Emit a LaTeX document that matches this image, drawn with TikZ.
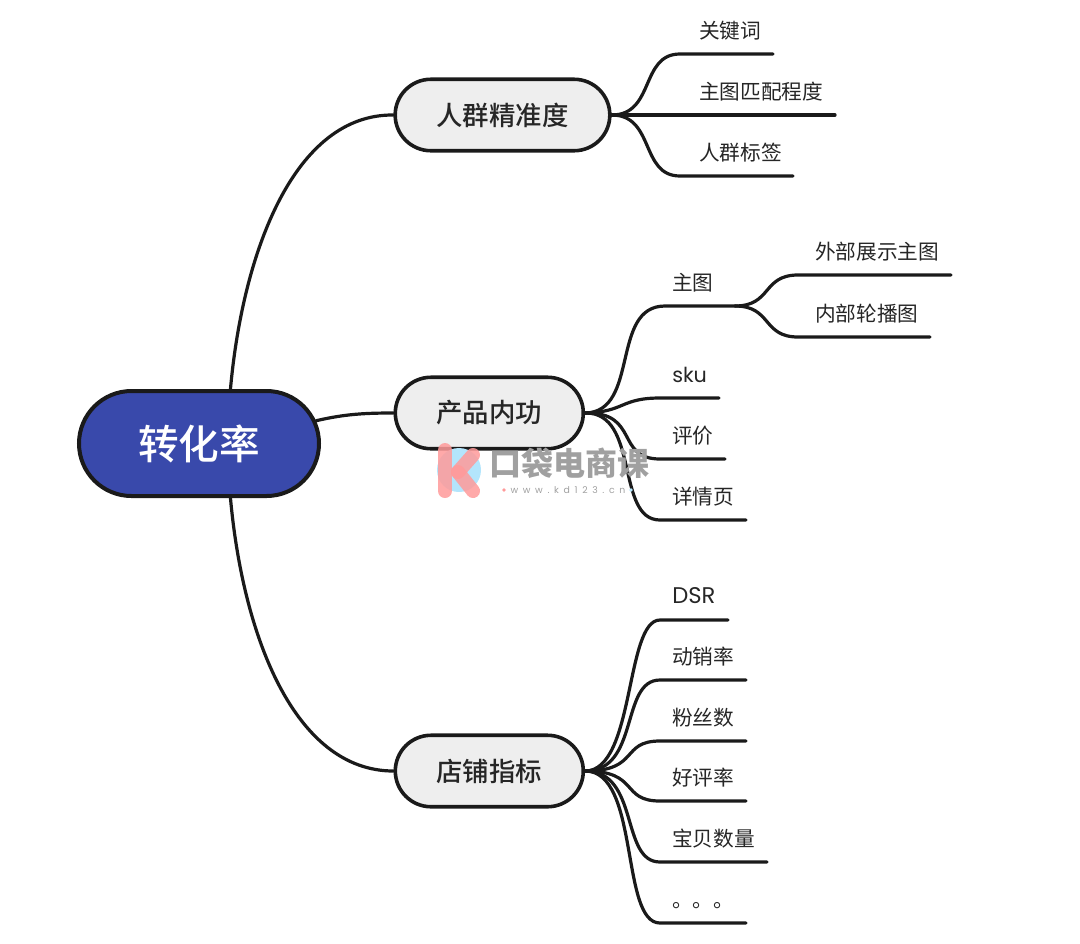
\documentclass[tikz,border=0pt]{standalone}
\usepackage{fontspec}
\setmainfont{Noto Sans CJK SC}
\newfontfamily\medfont[UprightFont=* Medium]{Noto Sans CJK SC}
\newfontfamily\latinfont{Poppins}
\newfontfamily\markfont[LetterSpace=50]{Poppins}
\usetikzlibrary{shapes.misc}
\definecolor{inkline}{HTML}{1A1A1A}
\definecolor{inktext}{HTML}{262626}
\definecolor{rootblue}{HTML}{3949AB}
\definecolor{branchgray}{HTML}{EEEEEE}
\definecolor{markgray}{HTML}{A0A0A0}
\definecolor{markpink}{HTML}{FF9A9A}
\definecolor{markblue}{HTML}{B3E5FC}
\tikzset{
    link/.style={draw=inkline, line width=2.4pt, line cap=round},
    rootnode/.style={rounded rectangle, draw=inkline, line width=3pt, fill=rootblue,
        text=white, font=\fontsize{30.5}{36}\medfont,
        minimum width=180pt, minimum height=78.75pt, inner sep=0pt},
    branchnode/.style={rounded rectangle, draw=inkline, line width=2.7pt, fill=branchgray,
        text=inktext, font=\fontsize{19.8}{24}\medfont,
        minimum height=53.6pt, inner sep=0pt},
    leafnode/.style={anchor=west, text=inktext, inner sep=0pt,
        font=\fontsize{15.5}{19}\selectfont},
}
\begin{document}
\begin{tikzpicture}[x=.75pt, y=-.75pt]
    \useasboundingbox (0,0) rectangle (1080,943);
    \def\dropY{23}
    % main nodes
    \node[rootnode] (root) at (199,443.5) {转化率};
    \node[branchnode, minimum width=161pt] (crowd) at (502.5,115) {人群精准度};
    \node[branchnode, minimum width=141pt] (product) at (489.3,413) {产品内功};
    \node[branchnode, minimum width=141pt] (shop) at (489.3,771) {店铺指标};
    % root to branches
    \draw[link] (root.60) .. controls (243,250) and (295,114) .. (crowd.west);
    \draw[link] (root.11) .. controls (345,414) and (365,413) .. (product.west);
    \draw[link] (root.-60) .. controls (243,637) and (295,771) .. (shop.west);
    % first branch
    \foreach \name/\x/\xend/\y/\txt in {kw/699/773/54/关键词, pic/699/835/115/主图匹配程度, tag/699/793/176/人群标签} {
        \node[leafnode] (\name) at (\x,\y-\dropY) {\txt};
        \coordinate (\name end) at (\xend,\y);
        \draw[link] (crowd.east) .. controls (655,115) and (640,\y) .. (680,\y) -- (\name end);
    }
    % second branch
    \node[leafnode] (mainpic) at (672,283) {主图};
    \coordinate (mainpic end) at (735,306);
    \draw[link] (product.east) .. controls (640,412) and (610,306) .. (665,306) -- (mainpic end);
    \foreach \name/\x/\xend/\y/\txt in {outer/815/951/275/外部展示主图, inner/815/930/337/内部轮播图} {
        \node[leafnode] (\name) at (\x,\y-\dropY) {\txt};
        \coordinate (\name end) at (\xend,\y);
        \draw[link] (mainpic end) .. controls (772,306) and (762,\y) .. (798,\y) -- (\name end);
    }
    \node[leafnode, font=\fontsize{15.5}{19}\latinfont] (sku) at (672,375) {sku};
    \coordinate (sku end) at (719,398);
    \draw[link] (product.east) .. controls (625,412) and (620,398) .. (660,398) -- (sku end);
    \foreach \name/\xend/\y/\txt in {review/725/459/评价, detail/746/520/详情页} {
        \node[leafnode] (\name) at (672,\y-\dropY) {\txt};
        \coordinate (\name end) at (\xend,\y);
        \draw[link] (product.east) .. controls (640,412) and (615,\y) .. (660,\y) -- (\name end);
    }
    % third branch
    \node[leafnode, font=\fontsize{17}{20}\latinfont] (dsr) at (672,596) {DSR};
    \coordinate (dsr end) at (728,620);
    \draw[link] (shop.east) .. controls (635,771) and (625,620) .. (660,620) -- (dsr end);
    \foreach \name/\xend/\y/\txt in {sell/746/680/动销率, fans/746/741/粉丝数, good/746/801/好评率, count/767/862/宝贝数量} {
        \node[leafnode] (\name) at (672,\y-\dropY) {\txt};
        \coordinate (\name end) at (\xend,\y);
        \draw[link] (shop.east) .. controls (640,771) and (620,\y) .. (660,\y) -- (\name end);
    }
    \node[leafnode] (more) at (672,906) {。。。};
    \coordinate (more end) at (746,923);
    \draw[link] (shop.east) .. controls (640,771) and (620,923) .. (660,923) -- (more end);
    % watermark
    \fill[markblue] (459,470) circle (22);
    \begin{scope}[line width=10.5pt, line cap=round, markpink, opacity=.85]
        \draw (445,450) -- (445,491);
        \draw (458,472) -- (473,455);
        \draw (458,472) -- (473,491);
    \end{scope}
    \node[text=markgray, inner sep=0pt, font=\fontsize{24}{28}\selectfont\bfseries] (markname) at (569.5,463) {口袋电商课};
    \node[text=markgray, inner sep=0pt, font=\fontsize{7}{8}\markfont] (markurl) at (568,490) {www.kd123.cn};
    \fill[markpink] (504,490) circle (1.8);
    \fill[markblue] (631,490) circle (1.8);
\end{tikzpicture}
\end{document}
